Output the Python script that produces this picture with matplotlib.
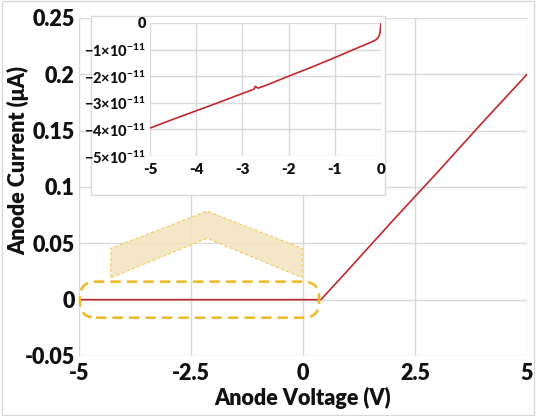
import matplotlib
matplotlib.use("Agg")
import matplotlib.pyplot as plt
from matplotlib import font_manager as fm
from matplotlib.patches import FancyBboxPatch, Polygon, Rectangle

def pick_bold_family(cands):
    for c in cands:
        for f in fm.fontManager.ttflist:
            w = f.weight if isinstance(f.weight, int) else 700 if f.weight == 'bold' else 400
            if f.name == c and w >= 700 and f.style == 'normal':
                return c
    return 'DejaVu Sans'

FAM = pick_bold_family(['Lato', 'Open Sans', 'Noto Sans', 'Roboto', 'Liberation Sans'])
plt.rcParams['font.family'] = [FAM, 'DejaVu Sans']
plt.rcParams['font.weight'] = 'heavy'
plt.rcParams['mathtext.fontset'] = 'custom'
plt.rcParams['mathtext.rm'] = FAM + ':black'
plt.rcParams['mathtext.bf'] = FAM + ':black'

# Main I-V sweep
voltage = [-5.0, 0.4, 1.0, 2.0, 3.0, 4.0, 5.0]
current_uA = [0.0, 0.0, 0.026, 0.070, 0.113, 0.157, 0.200]
x_ticks = [-5, -2.5, 0, 2.5, 5]
x_tick_labels = ['-5', '-2.5', '0', '2.5', '5']
y_ticks = [-0.05, 0, 0.05, 0.1, 0.15, 0.2, 0.25]
y_tick_labels = ['-0.05', '0', '0.05', '0.1', '0.15', '0.2', '0.25']

# Inset: reverse-bias detail
inset_voltage = [-5.0, -4.5, -4.0, -3.5, -3.0, -2.75, -2.72, -2.66, -2.5, -2.0,
                 -1.5, -1.0, -0.5, -0.2, -0.1, -0.05, -0.02, 0.0]
inset_current = [-3.95e-11, -3.62e-11, -3.30e-11, -2.98e-11, -2.65e-11, -2.49e-11,
                 -2.38e-11, -2.45e-11, -2.35e-11, -2.00e-11, -1.66e-11, -1.30e-11,
                 -0.93e-11, -0.71e-11, -0.62e-11, -0.52e-11, -0.35e-11, 0.0]
inset_x_ticks = [-5, -4, -3, -2, -1, 0]
inset_y_ticks = [0, -1e-11, -2e-11, -3e-11, -4e-11, -5e-11]
inset_y_labels = ['0'] + [r'$\mathbf{-%d{\times}10^{-11}}$' % k for k in range(1, 6)]

RED = '#C0282D'
GRID = '#D9D9D9'
GOLD = '#F0B822'
TXT = '#111111'
W = 'heavy'

fig = plt.figure(figsize=(5.36, 4.16), dpi=100)
fig.patch.set_facecolor('white')
fig.patches.append(Rectangle((0.003, 0.003), 0.994, 0.994, transform=fig.transFigure,
                             fill=False, edgecolor=GRID, linewidth=1))

ax = fig.add_axes([79/536, 60/416, 448/536, 338/416])
ax.plot(voltage, current_uA, color=RED, linewidth=1.2, zorder=3)
ax.set_xlim(-5, 5)
ax.set_ylim(-0.05, 0.25)
ax.set_xticks(x_ticks)
ax.set_xticklabels(x_tick_labels, fontweight=W, color=TXT)
ax.set_yticks(y_ticks)
ax.set_yticklabels(y_tick_labels, fontweight=W, color=TXT)
ax.grid(True, color=GRID, linewidth=1)
for s in ax.spines.values():
    s.set_visible(False)
ax.tick_params(axis='both', length=0, labelsize=15.5)
ax.tick_params(axis='x', pad=5)
ax.tick_params(axis='y', pad=3)
ax.set_xlabel('Anode Voltage (V)', fontsize=15.5, fontweight=W, labelpad=2, color=TXT)
ax.set_ylabel('Anode Current (μA)', fontsize=15.5, fontweight=W, color=TXT)
ax.yaxis.set_label_coords(-0.110, 0.577)
ax.set_axisbelow(True)

# Dashed rounded highlight around the flat region
bbox = ax.get_position()
px_w = bbox.width * 536
px_h = bbox.height * 416
xper = 10 / px_w
yper = 0.30 / px_h
aspect = yper / xper
rx0, rx1, ry0, ry1 = -4.98, 0.36, -0.016, 0.016
hl = FancyBboxPatch((rx0, ry0), rx1 - rx0, ry1 - ry0,
                    boxstyle='round,pad=0,rounding_size=%f' % (16 * xper),
                    mutation_aspect=aspect, transform=ax.transData,
                    fill=False, edgecolor=GOLD, linewidth=1.8,
                    linestyle=(0, (4.2, 2.4)), zorder=4, clip_on=False)
ax.add_patch(hl)

# Chevron pointer toward the inset
chev = [(-4.29, 0.0196), (-4.29, 0.0455), (-2.14, 0.0786), (-0.02, 0.0455),
        (-0.02, 0.0196), (-2.14, 0.0545)]
ax.add_patch(Polygon(chev, closed=True, facecolor='#F3E3BF', edgecolor='none',
                     alpha=0.85, zorder=2))
ax.add_patch(Polygon(chev, closed=True, fill=False, edgecolor='#F2CA5A',
                     linewidth=0.8, linestyle=(0, (3, 2)), zorder=2))

# Inset panel
fig.patches.append(Rectangle((91/536, 221/416), 294/536, 179/416,
                             transform=fig.transFigure, facecolor='white',
                             edgecolor=GRID, linewidth=1, zorder=5))
axi = fig.add_axes([150/536, 260/416, 231/536, 133/416], zorder=6)
axi.set_facecolor('white')
axi.plot(inset_voltage, inset_current, color=RED, linewidth=1.2, zorder=3)
axi.set_xlim(-5, 0)
axi.set_ylim(-5e-11, 0)
axi.set_xticks(inset_x_ticks)
axi.set_xticklabels([str(v) for v in inset_x_ticks], fontweight=W, color=TXT)
axi.set_yticks(inset_y_ticks)
axi.set_yticklabels(inset_y_labels, fontweight=W, color=TXT)
axi.grid(True, color=GRID, linewidth=1)
axi.set_axisbelow(True)
for s in axi.spines.values():
    s.set_visible(False)
axi.tick_params(axis='x', length=0, labelsize=11, pad=5)
axi.tick_params(axis='y', length=0, labelsize=10.5, pad=3)
axi.yaxis.get_offset_text().set_visible(False)

fig.savefig('out.png', dpi=100)
